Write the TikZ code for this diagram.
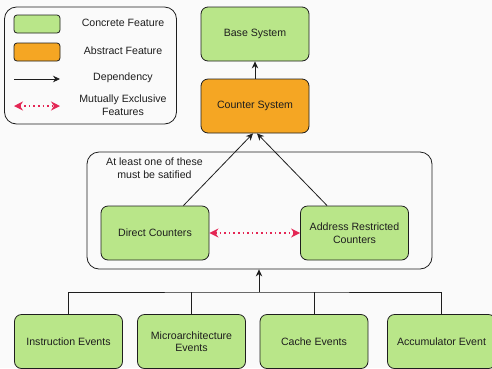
\documentclass[tikz,border=0pt]{standalone}
\usepackage{fontspec}
\setmainfont{Liberation Sans}
\usetikzlibrary{arrows.meta}
\definecolor{concrete}{RGB}{185,230,137}
\definecolor{abstract}{RGB}{245,166,35}
\definecolor{exclusive}{RGB}{228,38,84}
\definecolor{darkgray}{RGB}{30,30,30}
\definecolor{canvas}{RGB}{250,250,250}

\begin{document}
\begin{tikzpicture}[
  x=1pt, y=-1pt,
  feature/.style={rectangle, rounded corners=7pt, draw=darkgray, fill=concrete,
                  line width=0.8pt, minimum width=108pt, minimum height=54pt,
                  align=center, text=darkgray, font=\fontsize{10.6}{12.5}\selectfont},
  swatch/.style={rectangle, rounded corners=3pt, draw=darkgray, fill=concrete,
                 line width=0.8pt, minimum width=46pt, minimum height=18pt},
  frame/.style={rectangle, rounded corners=12pt, draw=darkgray, line width=0.8pt},
  label/.style={align=center, text=darkgray, font=\fontsize{10.6}{12.5}\selectfont},
  dep/.style={-{Stealth[length=7pt, width=6.5pt]}, line width=0.8pt, color=darkgray},
  excl/.style={{Stealth[length=9pt, width=9pt]}-{Stealth[length=9pt, width=9pt]},
               color=exclusive, line width=1.6pt, dash pattern=on 1.6pt off 3pt},
  tree/.style={line width=0.8pt, color=darkgray}
]
\useasboundingbox (0,0) rectangle (492,368);
\fill[canvas] (0,0) rectangle (492,368);

% legend
\node[frame, minimum width=172pt, minimum height=117pt] (legend) at (90.5,65.5) {};
\node[swatch] (sw1) at (37,24) {};
\node[swatch, fill=abstract] (sw2) at (37,52) {};
\coordinate (la) at (14,79);
\coordinate (lb) at (60,79);
\coordinate (lc) at (14,106);
\coordinate (ld) at (60,106);
\draw[dep] (la) -- (lb);
\draw[excl, line width=1.4pt] (lc) -- (ld);
\node[label] (lt1) at (123,23) {Concrete Feature};
\node[label] (lt2) at (123,51) {Abstract Feature};
\node[label] (lt3) at (123,78) {Dependency};
\node[label] (lt4) at (123,105) {Mutually Exclusive\\Features};

% top of the hierarchy
\node[feature] (base) at (255,34) {Base System};
\node[feature, fill=abstract] (counter) at (255,106) {Counter System};

% either counter kind
\node[frame, minimum width=345pt, minimum height=117pt] (group) at (259.5,210.5) {};
\node[label] (note) at (154.5,168) {At least one of these\\must be satified};
\node[feature] (direct) at (155,233) {Direct Counters};
\node[feature] (address) at (354.5,233) {Address Restricted\\Counters};

% event sources
\node[feature] (instr) at (68.5,341.5) {Instruction Events};
\node[feature] (micro) at (191.5,341.5) {Microarchitecture\\Events};
\node[feature] (cache) at (314,341.5) {Cache Events};
\node[feature] (accum) at (441.5,341.5) {Accumulator Event};

\draw[dep] (counter) -- (base);
\draw[dep] ([xshift=-26pt]direct.north east) -- ([xshift=-2pt]counter.south);
\draw[dep] ([xshift=27pt]address.north west) -- ([xshift=2pt]counter.south);
\draw[excl] (direct) -- (address);

\coordinate (bus) at (259,292);
\draw[tree] (instr.north) |- (bus) -| (accum.north);
\draw[tree] (micro.north) -- (micro.north |- bus);
\draw[tree] (cache.north) -- (cache.north |- bus);
\draw[dep] (bus) -- (group.south -| bus);

\end{tikzpicture}
\end{document}
